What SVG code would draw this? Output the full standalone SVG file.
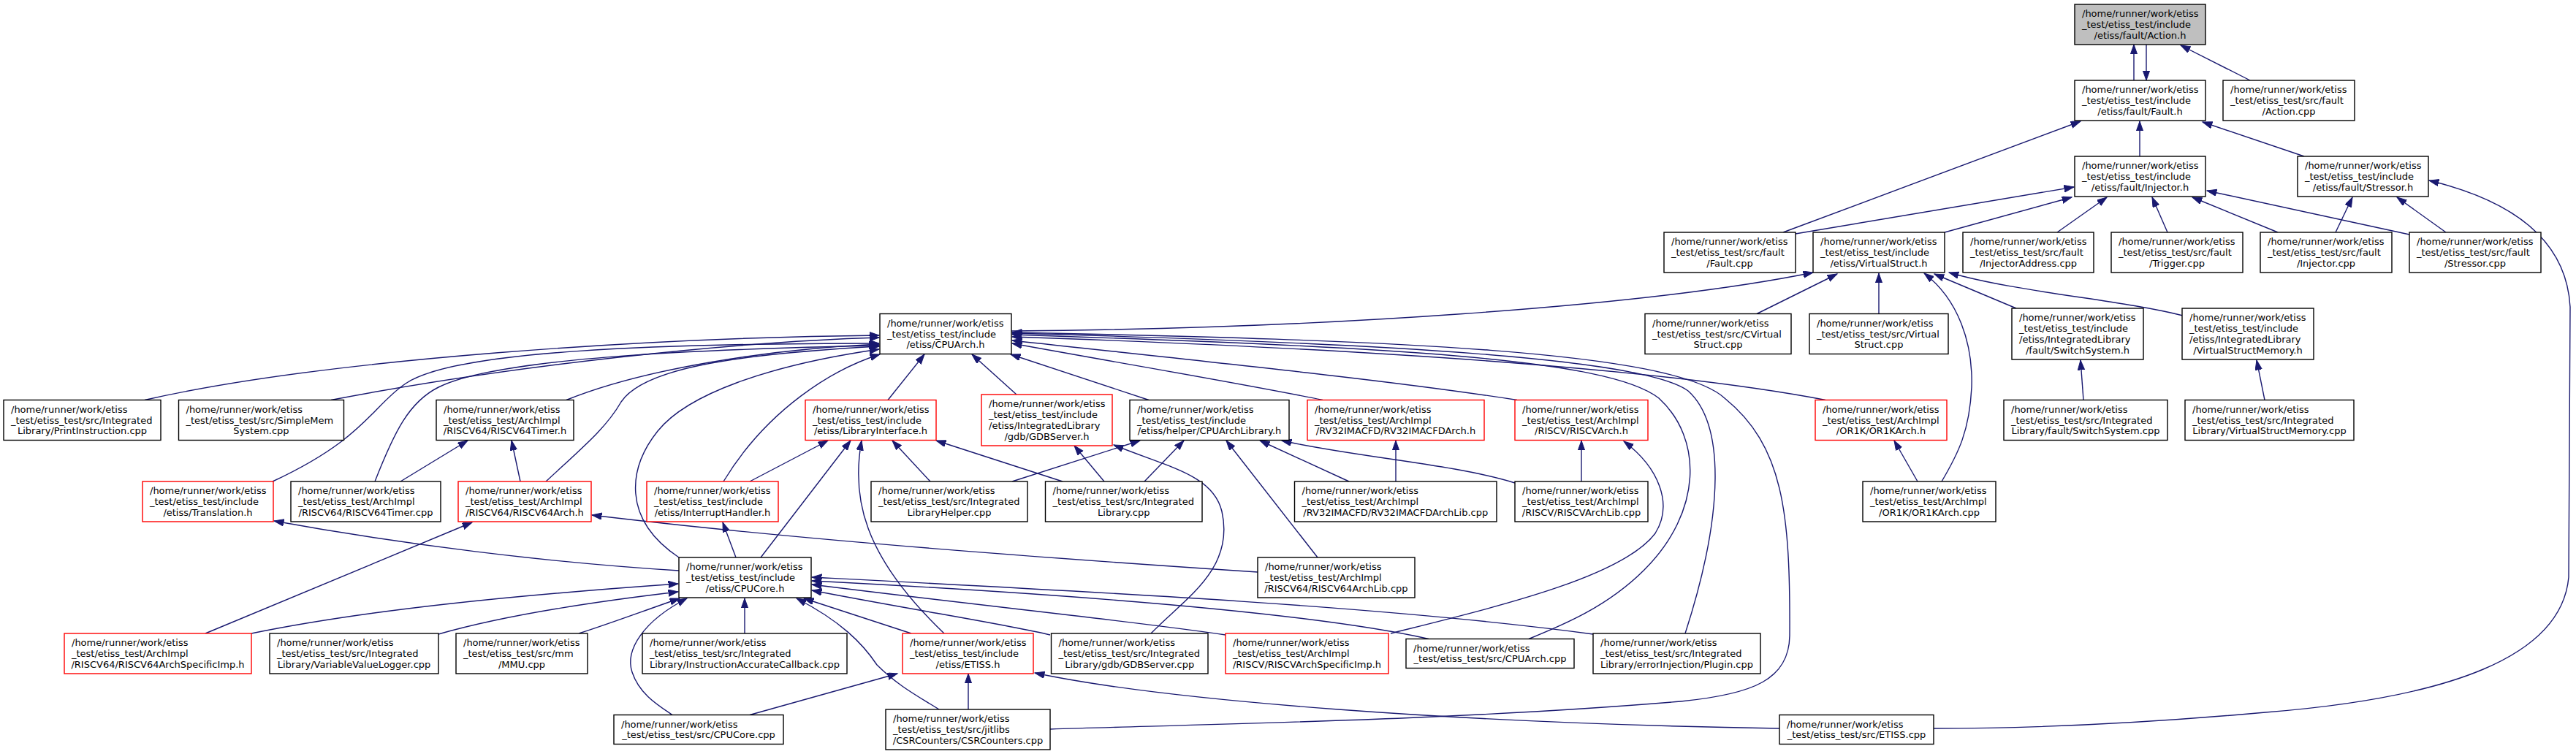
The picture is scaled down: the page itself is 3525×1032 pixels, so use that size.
<svg xmlns="http://www.w3.org/2000/svg" width="3525" height="1032" viewBox="0 0 3525 1032">
<style>
.n rect{fill:#fff;stroke:#000;stroke-width:1.4}
.n.red rect{stroke:#ff0000}
.n.grey rect{fill:#bfbfbf}
text{font-family:"DejaVu Sans",sans-serif;font-size:13px;fill:#000}
.l{text-anchor:start}
.c{text-anchor:middle}
#edges path{fill:none;stroke:#191970;stroke-width:1.4;marker-start:url(#ah)}
</style>
<defs>
<marker id="ah" markerUnits="userSpaceOnUse" markerWidth="16" markerHeight="12" refX="13.4" refY="4.7" orient="auto-start-reverse"><path d="M0,0 L13.4,4.7 L0,9.4 z" fill="#191970" stroke="#191970" stroke-width="1"/></marker>
</defs>
<rect x="0" y="0" width="3525" height="1032" fill="#fff"/>
<g id="edges">
<path d="M2920,61 L2920,110"/>
<path d="M2937,110 L2937,61"/>
<path d="M2984,62 L3079,110"/>
<path d="M2847,166 L2440,318"/>
<path d="M2928,166 L2928,214"/>
<path d="M3014,167 L3153,214"/>
<path d="M2838,256 L2457,320"/>
<path d="M2835,270 L2661,318"/>
<path d="M2883,270 L2815,318"/>
<path d="M2945,270 L2966,318"/>
<path d="M3000,270 L3117,318"/>
<path d="M3020,261 L3297,321"/>
<path d="M3219,270 L3196,318"/>
<path d="M3280,270 L3347,318"/>
<path d="M3324,247 C3440,275 3512,330 3517,420 L3515,790 C3505,900 3350,955 3100,975 C2900,993 2750,997 2646,997"/>
<path d="M2481,373 C2250,420 1800,450 1384,453"/>
<path d="M2514,375 L2404,429.5"/>
<path d="M2571,374 L2571,429.5"/>
<path d="M2633,374 C2680,410 2700,470 2698,530 C2695,590 2680,620 2657,659"/>
<path d="M2647,375 L2759,422"/>
<path d="M2667,373 C2760,400 2900,410 2987,432"/>
<path d="M2847,493 L2851,547.5"/>
<path d="M3088,493 L3099,547.5"/>
<path d="M1203,459 C900,462 450,490 198,547.5"/>
<path d="M1203,462 C1000,468 700,500 453,547.5"/>
<path d="M1203,470 C900,470 620,480 555,525 C510,555 500,600 373,659"/>
<path d="M1203,473 C950,478 680,490 600,530 C560,550 540,590 513,659"/>
<path d="M1203,471 C1050,478 880,505 775,547.5"/>
<path d="M1203,474 C1000,485 880,505 850,550 C830,585 800,610 747,659"/>
<path d="M1203,478 C1050,500 940,540 900,590 C860,640 850,710 929,763"/>
<path d="M1204,485 C1140,505 1050,560 990,659"/>
<path d="M1265,485 L1215,547.5"/>
<path d="M1330,485 L1391,540"/>
<path d="M1383,485 L1572,547.5"/>
<path d="M1385,470 C1550,500 1700,525 1810,547.5"/>
<path d="M1385,466 C1650,495 1900,520 2076,547.5"/>
<path d="M1385,461 C1800,475 2250,500 2498,547.5"/>
<path d="M1385,458 C1900,475 2200,490 2270,545 C2330,600 2330,700 2250,780 C2200,830 2140,855 2092,874.5"/>
<path d="M1385,456 C1900,470 2250,490 2310,535 C2360,580 2360,700 2306,867"/>
<path d="M1385,455 C1900,465 2290,480 2360,545 C2440,610 2450,700 2449,870 C2448,930 2400,950 2300,960 C2000,985 1700,990 1437,998"/>
<path d="M1133,603 L1026,659"/>
<path d="M1164,603 L1041,763"/>
<path d="M1179,603 C1165,680 1180,760 1292,867"/>
<path d="M1221,603 L1273,659"/>
<path d="M1281,603 L1454,659"/>
<path d="M1470,610 L1511,659"/>
<path d="M1524,609 C1600,640 1660,650 1672,700 C1690,780 1620,820 1575,867"/>
<path d="M1560,603 L1385,659"/>
<path d="M1620,603 L1566,659"/>
<path d="M1678,603 L1803,763"/>
<path d="M1724,603 L1846,659"/>
<path d="M1754,603 C1850,625 1990,635 2073,661"/>
<path d="M1910,603 L1910,659"/>
<path d="M2164,603 L2164,659"/>
<path d="M2222,604 C2270,640 2290,690 2265,730 C2220,790 2050,830 1903,867"/>
<path d="M2592,603 L2624,659"/>
<path d="M640,603 L548,659"/>
<path d="M700,603 L712,659"/>
<path d="M646,715 L281,867"/>
<path d="M810,705 C1100,740 1450,765 1721,783"/>
<path d="M375,713 C550,745 750,770 929,781"/>
<path d="M989,715 L1007,763"/>
<path d="M928,799 C700,815 500,835 344,867"/>
<path d="M928,810 C800,825 680,845 600,868"/>
<path d="M930,819 C870,840 830,855 792,867"/>
<path d="M940,819 C880,850 855,890 865,920 C875,950 900,965 920,978.5"/>
<path d="M1019,819 L1019,867"/>
<path d="M1100,819 L1247,867"/>
<path d="M1090,819 C1150,850 1180,880 1200,910 C1230,940 1260,955 1285,971"/>
<path d="M1111,808 C1250,835 1380,855 1437,869"/>
<path d="M1111,800 C1350,830 1550,850 1677,869"/>
<path d="M1111,795 C1500,815 1800,840 1955,874.5"/>
<path d="M1111,790 C1500,810 1900,830 2180,868"/>
<path d="M1228,922 L1026,978.5"/>
<path d="M1325,922 L1325,971"/>
<path d="M1416,921 C1600,960 2000,990 2435,997"/>
</g>
<g id="n_action_h" class="n grey"><rect x="2839" y="6" width="179" height="55"/><text class="l" x="2849" y="23.3">/home/runner/work/etiss</text><text class="l" x="2849" y="38">_test/etiss_test/include</text><text class="c" x="2928.5" y="52.7">/etiss/fault/Action.h</text></g>
<g id="n_fault_h" class="n"><rect x="2839" y="110" width="179" height="55"/><text class="l" x="2849" y="127.3">/home/runner/work/etiss</text><text class="l" x="2849" y="142">_test/etiss_test/include</text><text class="c" x="2928.5" y="156.7">/etiss/fault/Fault.h</text></g>
<g id="n_action_cpp" class="n"><rect x="3042" y="110" width="180" height="55"/><text class="l" x="3052" y="127.3">/home/runner/work/etiss</text><text class="l" x="3052" y="142">_test/etiss_test/src/fault</text><text class="c" x="3132" y="156.7">/Action.cpp</text></g>
<g id="n_injector_h" class="n"><rect x="2839" y="214" width="179" height="55"/><text class="l" x="2849" y="231.3">/home/runner/work/etiss</text><text class="l" x="2849" y="246">_test/etiss_test/include</text><text class="c" x="2928.5" y="260.7">/etiss/fault/Injector.h</text></g>
<g id="n_stressor_h" class="n"><rect x="3144" y="214" width="179" height="55"/><text class="l" x="3154" y="231.3">/home/runner/work/etiss</text><text class="l" x="3154" y="246">_test/etiss_test/include</text><text class="c" x="3233.5" y="260.7">/etiss/fault/Stressor.h</text></g>
<g id="n_fault_cpp" class="n"><rect x="2277" y="318" width="180" height="55"/><text class="l" x="2287" y="335.3">/home/runner/work/etiss</text><text class="l" x="2287" y="350">_test/etiss_test/src/fault</text><text class="c" x="2367" y="364.7">/Fault.cpp</text></g>
<g id="n_virtualstruct_h" class="n"><rect x="2481" y="318" width="180" height="55"/><text class="l" x="2491" y="335.3">/home/runner/work/etiss</text><text class="l" x="2491" y="350">_test/etiss_test/include</text><text class="c" x="2571" y="364.7">/etiss/VirtualStruct.h</text></g>
<g id="n_injectoraddress_cpp" class="n"><rect x="2686" y="318" width="179" height="55"/><text class="l" x="2696" y="335.3">/home/runner/work/etiss</text><text class="l" x="2696" y="350">_test/etiss_test/src/fault</text><text class="c" x="2775.5" y="364.7">/InjectorAddress.cpp</text></g>
<g id="n_trigger_cpp" class="n"><rect x="2889" y="318" width="180" height="55"/><text class="l" x="2899" y="335.3">/home/runner/work/etiss</text><text class="l" x="2899" y="350">_test/etiss_test/src/fault</text><text class="c" x="2979" y="364.7">/Trigger.cpp</text></g>
<g id="n_injector_cpp" class="n"><rect x="3093" y="318" width="180" height="55"/><text class="l" x="3103" y="335.3">/home/runner/work/etiss</text><text class="l" x="3103" y="350">_test/etiss_test/src/fault</text><text class="c" x="3183" y="364.7">/Injector.cpp</text></g>
<g id="n_stressor_cpp" class="n"><rect x="3297" y="318" width="180" height="55"/><text class="l" x="3307" y="335.3">/home/runner/work/etiss</text><text class="l" x="3307" y="350">_test/etiss_test/src/fault</text><text class="c" x="3387" y="364.7">/Stressor.cpp</text></g>
<g id="n_cpuarch_h" class="n"><rect x="1204" y="429.5" width="180" height="55"/><text class="l" x="1214" y="446.8">/home/runner/work/etiss</text><text class="l" x="1214" y="461.5">_test/etiss_test/include</text><text class="c" x="1294" y="476.2">/etiss/CPUArch.h</text></g>
<g id="n_cvirtualstruct_cpp" class="n"><rect x="2251" y="429.5" width="200" height="55"/><text class="l" x="2261" y="446.8">/home/runner/work/etiss</text><text class="l" x="2261" y="461.5">_test/etiss_test/src/CVirtual</text><text class="c" x="2351" y="476.2">Struct.cpp</text></g>
<g id="n_virtualstruct_cpp" class="n"><rect x="2476" y="429.5" width="190" height="55"/><text class="l" x="2486" y="446.8">/home/runner/work/etiss</text><text class="l" x="2486" y="461.5">_test/etiss_test/src/Virtual</text><text class="c" x="2571" y="476.2">Struct.cpp</text></g>
<g id="n_switchsystem_h" class="n"><rect x="2753" y="422" width="180" height="70"/><text class="l" x="2763" y="439.45">/home/runner/work/etiss</text><text class="l" x="2763" y="454.15">_test/etiss_test/include</text><text class="l" x="2763" y="468.85">/etiss/IntegratedLibrary</text><text class="c" x="2843" y="483.55">/fault/SwitchSystem.h</text></g>
<g id="n_virtualstructmemory_h" class="n"><rect x="2986" y="422" width="180" height="70"/><text class="l" x="2996" y="439.45">/home/runner/work/etiss</text><text class="l" x="2996" y="454.15">_test/etiss_test/include</text><text class="l" x="2996" y="468.85">/etiss/IntegratedLibrary</text><text class="c" x="3076" y="483.55">/VirtualStructMemory.h</text></g>
<g id="n_printinstruction_cpp" class="n"><rect x="5" y="547.5" width="215" height="55"/><text class="l" x="15" y="564.8">/home/runner/work/etiss</text><text class="l" x="15" y="579.5">_test/etiss_test/src/Integrated</text><text class="c" x="112.5" y="594.2">Library/PrintInstruction.cpp</text></g>
<g id="n_simplememsystem_cpp" class="n"><rect x="244.5" y="547.5" width="226" height="55"/><text class="l" x="254.5" y="564.8">/home/runner/work/etiss</text><text class="l" x="254.5" y="579.5">_test/etiss_test/src/SimpleMem</text><text class="c" x="357.5" y="594.2">System.cpp</text></g>
<g id="n_riscv64timer_h" class="n"><rect x="597" y="547.5" width="188" height="55"/><text class="l" x="607" y="564.8">/home/runner/work/etiss</text><text class="l" x="607" y="579.5">_test/etiss_test/ArchImpl</text><text class="c" x="691" y="594.2">/RISCV64/RISCV64Timer.h</text></g>
<g id="n_libraryinterface_h" class="n red"><rect x="1102" y="547.5" width="179" height="55"/><text class="l" x="1112" y="564.8">/home/runner/work/etiss</text><text class="l" x="1112" y="579.5">_test/etiss_test/include</text><text class="c" x="1191.5" y="594.2">/etiss/LibraryInterface.h</text></g>
<g id="n_gdbserver_h" class="n red"><rect x="1343" y="540" width="179" height="70"/><text class="l" x="1353" y="557.45">/home/runner/work/etiss</text><text class="l" x="1353" y="572.15">_test/etiss_test/include</text><text class="l" x="1353" y="586.85">/etiss/IntegratedLibrary</text><text class="c" x="1432.5" y="601.55">/gdb/GDBServer.h</text></g>
<g id="n_cpuarchlibrary_h" class="n"><rect x="1546" y="547.5" width="218" height="55"/><text class="l" x="1556" y="564.8">/home/runner/work/etiss</text><text class="l" x="1556" y="579.5">_test/etiss_test/include</text><text class="c" x="1655" y="594.2">/etiss/helper/CPUArchLibrary.h</text></g>
<g id="n_rv32imacfdarch_h" class="n red"><rect x="1789" y="547.5" width="242" height="55"/><text class="l" x="1799" y="564.8">/home/runner/work/etiss</text><text class="l" x="1799" y="579.5">_test/etiss_test/ArchImpl</text><text class="c" x="1910" y="594.2">/RV32IMACFD/RV32IMACFDArch.h</text></g>
<g id="n_riscvarch_h" class="n red"><rect x="2073" y="547.5" width="182" height="55"/><text class="l" x="2083" y="564.8">/home/runner/work/etiss</text><text class="l" x="2083" y="579.5">_test/etiss_test/ArchImpl</text><text class="c" x="2164" y="594.2">/RISCV/RISCVArch.h</text></g>
<g id="n_or1karch_h" class="n red"><rect x="2484" y="547.5" width="180" height="55"/><text class="l" x="2494" y="564.8">/home/runner/work/etiss</text><text class="l" x="2494" y="579.5">_test/etiss_test/ArchImpl</text><text class="c" x="2574" y="594.2">/OR1K/OR1KArch.h</text></g>
<g id="n_switchsystem_cpp" class="n"><rect x="2742" y="547.5" width="224" height="55"/><text class="l" x="2752" y="564.8">/home/runner/work/etiss</text><text class="l" x="2752" y="579.5">_test/etiss_test/src/Integrated</text><text class="c" x="2854" y="594.2">Library/fault/SwitchSystem.cpp</text></g>
<g id="n_virtualstructmemory_cpp" class="n"><rect x="2990" y="547.5" width="231" height="55"/><text class="l" x="3000" y="564.8">/home/runner/work/etiss</text><text class="l" x="3000" y="579.5">_test/etiss_test/src/Integrated</text><text class="c" x="3105.5" y="594.2">Library/VirtualStructMemory.cpp</text></g>
<g id="n_translation_h" class="n red"><rect x="195" y="659" width="179" height="55"/><text class="l" x="205" y="676.3">/home/runner/work/etiss</text><text class="l" x="205" y="691">_test/etiss_test/include</text><text class="c" x="284.5" y="705.7">/etiss/Translation.h</text></g>
<g id="n_riscv64timer_cpp" class="n"><rect x="398" y="659" width="205" height="55"/><text class="l" x="408" y="676.3">/home/runner/work/etiss</text><text class="l" x="408" y="691">_test/etiss_test/ArchImpl</text><text class="c" x="500.5" y="705.7">/RISCV64/RISCV64Timer.cpp</text></g>
<g id="n_riscv64arch_h" class="n red"><rect x="627" y="659" width="182" height="55"/><text class="l" x="637" y="676.3">/home/runner/work/etiss</text><text class="l" x="637" y="691">_test/etiss_test/ArchImpl</text><text class="c" x="718" y="705.7">/RISCV64/RISCV64Arch.h</text></g>
<g id="n_interrupthandler_h" class="n red"><rect x="885" y="659" width="180" height="55"/><text class="l" x="895" y="676.3">/home/runner/work/etiss</text><text class="l" x="895" y="691">_test/etiss_test/include</text><text class="c" x="975" y="705.7">/etiss/InterruptHandler.h</text></g>
<g id="n_integratedlibraryhelper_cpp" class="n"><rect x="1192" y="659" width="214" height="55"/><text class="l" x="1202" y="676.3">/home/runner/work/etiss</text><text class="l" x="1202" y="691">_test/etiss_test/src/Integrated</text><text class="c" x="1299" y="705.7">LibraryHelper.cpp</text></g>
<g id="n_integratedlibrary_cpp" class="n"><rect x="1430.5" y="659" width="214.5" height="55"/><text class="l" x="1440.5" y="676.3">/home/runner/work/etiss</text><text class="l" x="1440.5" y="691">_test/etiss_test/src/Integrated</text><text class="c" x="1537.75" y="705.7">Library.cpp</text></g>
<g id="n_rv32imacfdarchlib_cpp" class="n"><rect x="1771.5" y="659" width="276.5" height="55"/><text class="l" x="1781.5" y="676.3">/home/runner/work/etiss</text><text class="l" x="1781.5" y="691">_test/etiss_test/ArchImpl</text><text class="c" x="1909.75" y="705.7">/RV32IMACFD/RV32IMACFDArchLib.cpp</text></g>
<g id="n_riscvarchlib_cpp" class="n"><rect x="2073" y="659" width="182" height="55"/><text class="l" x="2083" y="676.3">/home/runner/work/etiss</text><text class="l" x="2083" y="691">_test/etiss_test/ArchImpl</text><text class="c" x="2164" y="705.7">/RISCV/RISCVArchLib.cpp</text></g>
<g id="n_or1karch_cpp" class="n"><rect x="2549" y="659" width="182" height="55"/><text class="l" x="2559" y="676.3">/home/runner/work/etiss</text><text class="l" x="2559" y="691">_test/etiss_test/ArchImpl</text><text class="c" x="2640" y="705.7">/OR1K/OR1KArch.cpp</text></g>
<g id="n_cpucore_h" class="n"><rect x="929" y="763" width="181" height="55"/><text class="l" x="939" y="780.3">/home/runner/work/etiss</text><text class="l" x="939" y="795">_test/etiss_test/include</text><text class="c" x="1019.5" y="809.7">/etiss/CPUCore.h</text></g>
<g id="n_riscv64archlib_cpp" class="n"><rect x="1721" y="763" width="215" height="55"/><text class="l" x="1731" y="780.3">/home/runner/work/etiss</text><text class="l" x="1731" y="795">_test/etiss_test/ArchImpl</text><text class="c" x="1828.5" y="809.7">/RISCV64/RISCV64ArchLib.cpp</text></g>
<g id="n_riscv64archspecificimp_h" class="n red"><rect x="88" y="867" width="256" height="55"/><text class="l" x="98" y="884.3">/home/runner/work/etiss</text><text class="l" x="98" y="899">_test/etiss_test/ArchImpl</text><text class="c" x="216" y="913.7">/RISCV64/RISCV64ArchSpecificImp.h</text></g>
<g id="n_variablevaluelogger_cpp" class="n"><rect x="369" y="867" width="231" height="55"/><text class="l" x="379" y="884.3">/home/runner/work/etiss</text><text class="l" x="379" y="899">_test/etiss_test/src/Integrated</text><text class="c" x="484.5" y="913.7">Library/VariableValueLogger.cpp</text></g>
<g id="n_mmu_cpp" class="n"><rect x="624" y="867" width="180" height="55"/><text class="l" x="634" y="884.3">/home/runner/work/etiss</text><text class="l" x="634" y="899">_test/etiss_test/src/mm</text><text class="c" x="714" y="913.7">/MMU.cpp</text></g>
<g id="n_instructionaccuratecallback_cpp" class="n"><rect x="879" y="867" width="280" height="55"/><text class="l" x="889" y="884.3">/home/runner/work/etiss</text><text class="l" x="889" y="899">_test/etiss_test/src/Integrated</text><text class="c" x="1019" y="913.7">Library/InstructionAccurateCallback.cpp</text></g>
<g id="n_etiss_h" class="n red"><rect x="1235" y="867" width="179" height="55"/><text class="l" x="1245" y="884.3">/home/runner/work/etiss</text><text class="l" x="1245" y="899">_test/etiss_test/include</text><text class="c" x="1324.5" y="913.7">/etiss/ETISS.h</text></g>
<g id="n_gdbserver_cpp" class="n"><rect x="1438.5" y="867" width="214.5" height="55"/><text class="l" x="1448.5" y="884.3">/home/runner/work/etiss</text><text class="l" x="1448.5" y="899">_test/etiss_test/src/Integrated</text><text class="c" x="1545.75" y="913.7">Library/gdb/GDBServer.cpp</text></g>
<g id="n_riscvarchspecificimp_h" class="n red"><rect x="1677" y="867" width="223" height="55"/><text class="l" x="1687" y="884.3">/home/runner/work/etiss</text><text class="l" x="1687" y="899">_test/etiss_test/ArchImpl</text><text class="c" x="1788.5" y="913.7">/RISCV/RISCVArchSpecificImp.h</text></g>
<g id="n_cpuarch_cpp" class="n"><rect x="1924" y="874.5" width="230" height="40"/><text class="l" x="1934" y="891.65">/home/runner/work/etiss</text><text class="c" x="2039" y="906.35">_test/etiss_test/src/CPUArch.cpp</text></g>
<g id="n_plugin_cpp" class="n"><rect x="2180" y="867" width="229" height="55"/><text class="l" x="2190" y="884.3">/home/runner/work/etiss</text><text class="l" x="2190" y="899">_test/etiss_test/src/Integrated</text><text class="c" x="2294.5" y="913.7">Library/errorInjection/Plugin.cpp</text></g>
<g id="n_cpucore_cpp" class="n"><rect x="840" y="978.5" width="232" height="40"/><text class="l" x="850" y="995.65">/home/runner/work/etiss</text><text class="c" x="956" y="1010.35">_test/etiss_test/src/CPUCore.cpp</text></g>
<g id="n_csrcounters_cpp" class="n"><rect x="1212" y="971" width="225" height="55"/><text class="l" x="1222" y="988.3">/home/runner/work/etiss</text><text class="l" x="1222" y="1003">_test/etiss_test/src/jitlibs</text><text class="c" x="1324.5" y="1017.7">/CSRCounters/CSRCounters.cpp</text></g>
<g id="n_etiss_cpp" class="n"><rect x="2435" y="978.5" width="211" height="40"/><text class="l" x="2445" y="995.65">/home/runner/work/etiss</text><text class="c" x="2540.5" y="1010.35">_test/etiss_test/src/ETISS.cpp</text></g>
</svg>
